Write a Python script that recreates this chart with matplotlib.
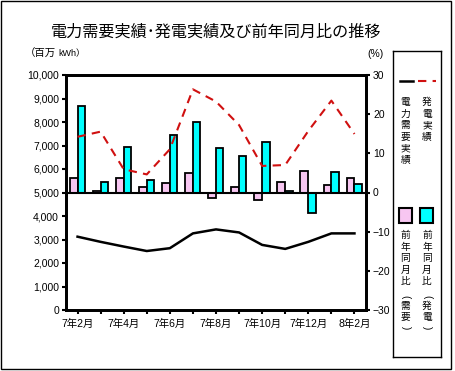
import numpy as np
import matplotlib
matplotlib.use("Agg")
import matplotlib.pyplot as plt
from matplotlib.patches import Rectangle

plt.rcParams['font.family'] = ['Liberation Sans', 'Noto Sans CJK JP']

# data
months = ["7年2月", "7年3月", "7年4月", "7年5月", "7年6月", "7年7月", "7年8月",
          "7年9月", "7年10月", "7年11月", "7年12月", "8年1月", "8年2月"]
demand = [3120, 2900, 2700, 2510, 2630, 3260, 3430, 3300, 2770, 2600, 2900, 3260, 3260]
generation = [7370, 7590, 5990, 5770, 6840, 9390, 8870, 7870, 6130, 6170, 7620, 8910, 7490]
demand_yoy = [3.7, 0.3, 3.7, 1.4, 2.3, 5.1, -1.3, 1.5, -2.0, 2.8, 5.6, 2.0, 3.8]
gen_yoy = [22.2, 2.6, 11.5, 3.1, 14.7, 18.1, 11.3, 9.2, 13.0, 0.5, -5.3, 5.2, 2.2]

W, H = 456, 371
fig = plt.figure(figsize=(W / 100, H / 100), dpi=100)

# outer frame
fig.patches.append(Rectangle((1 / W, 1 - 369 / H), 450 / W, 368 / H, transform=fig.transFigure,
                             fill=False, edgecolor='black', linewidth=1))

ax = fig.add_axes([66 / W, 1 - 310 / H, 300 / W, 235 / H])
ax2 = ax.twinx()

x = np.arange(len(months))

# bars (right axis)
ax2.bar(x - 0.17, demand_yoy, width=0.34, color='#f7c6f1', edgecolor='black', linewidth=1.3)
ax2.bar(x + 0.16, gen_yoy, width=0.32, color='#00ffff', edgecolor='black', linewidth=1.3)
ax2.axhline(0, color='black', linewidth=1.5)
ax2.set_ylim(-30, 30)
ax2.set_yticks(range(-30, 31, 10))

# lines (left axis)
ax.plot(x, demand, color='black', linewidth=1.8)
ax.plot(x, generation, color='#d01010', linewidth=1.5, dashes=(4, 3))
ax.set_ylim(0, 10000)
ax.set_yticks(range(0, 10001, 1000))
ax.set_yticklabels([f"{v:,}" for v in range(0, 10001, 1000)])
ax.set_xlim(-0.5, len(months) - 0.5)
ax.set_xticks(x)
ax.set_xticklabels([m if i % 2 == 0 else "" for i, m in enumerate(months)])
ax.set_zorder(ax2.get_zorder() + 1)
ax.patch.set_visible(False)

for a in (ax, ax2):
    for s in a.spines.values():
        s.set_linewidth(2)
    a.tick_params(labelsize=7.5, width=1.5, length=3, pad=2)
ax.tick_params(axis='x', pad=3)

fig.text(216 / W, 1 - 32 / H, "電力需要実績･発電実績及び前年同月比の推移",
         ha='center', va='center', fontsize=11.6, family=['Noto Sans CJK JP', 'DejaVu Sans'])
fig.text(25 / W, 1 - 54 / H, "（百万", ha='left', va='center', fontsize=7.5, family='Noto Sans CJK JP')
fig.text(58 / W, 1 - 54 / H, "kWh）", ha='left', va='center', fontsize=6.5,
         family=['Liberation Sans', 'Noto Sans CJK JP'])
fig.text(376 / W, 1 - 54 / H, "(%)", ha='center', va='center', fontsize=7.5)

# legend box
lg = fig.add_axes([393 / W, 1 - 357 / H, 48 / W, 306 / H])
lg.set_xlim(393, 441)
lg.set_ylim(357, 51)
lg.set_xticks([])
lg.set_yticks([])
for s in lg.spines.values():
    s.set_linewidth(1)

lg.plot([400, 413], [81, 81], color='black', linewidth=1.8)
lg.plot([418, 436], [81, 81], color='#d01010', linewidth=1.5, dashes=(4, 3))
lg.add_patch(Rectangle((399, 208), 13, 15, facecolor='#f7c6f1', edgecolor='black', linewidth=1.5))
lg.add_patch(Rectangle((420, 208), 13, 15, facecolor='#00ffff', edgecolor='black', linewidth=1.5))


def vtext(cx, y0, chars, step=11.6):
    y = y0
    for c in chars:
        if c in "()":
            lg.text(cx, y, c, ha='center', va='center', fontsize=7, rotation=-90,
                    family='Liberation Sans')
            y += step * 0.8
        else:
            lg.text(cx, y, c, ha='center', va='center', fontsize=7, family='Noto Sans CJK JP')
            y += step


vtext(405.5, 102, "電力需要実績")
vtext(427, 102, "発電実績")
vtext(405.5, 235, "前年同月比")
vtext(427, 235, "前年同月比")
vtext(405.5, 297, "(需要)", step=11)
vtext(427, 297, "(発電)", step=11)

fig.savefig("out.png", dpi=100)
